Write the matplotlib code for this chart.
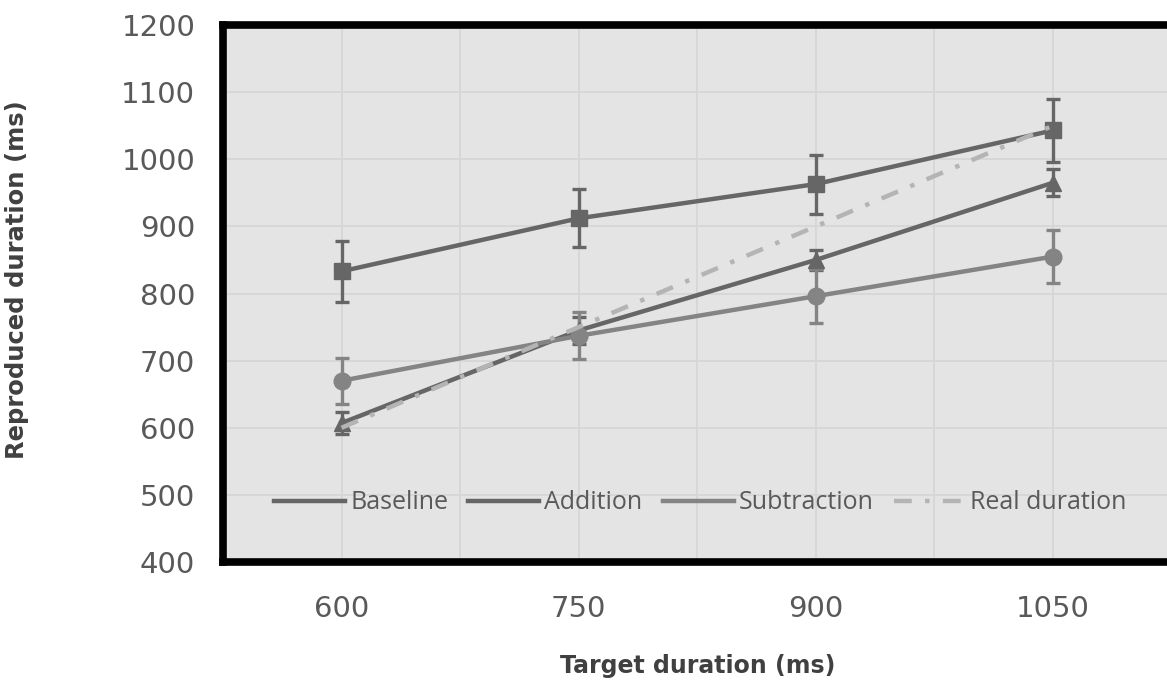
import matplotlib
matplotlib.use("Agg")
import matplotlib.pyplot as plt

targets = ["600", "750", "900", "1050"]
baseline = [833, 912, 963, 1043]
baseline_err = [45, 43, 44, 47]
addition = [607, 745, 850, 965]
addition_err = [17, 20, 15, 20]
subtraction = [670, 737, 796, 855]
subtraction_err = [34, 35, 40, 39]
real = [600, 750, 900, 1050]

x = list(range(len(targets)))

fig = plt.figure(figsize=(11.67, 6.8), dpi=100)
# right edge of the frame is cut by the picture edge
ax = fig.add_axes([223 / 1167, 118 / 680, (1171.5 - 223) / 1167, 537 / 680])
ax.set_facecolor("#e4e4e4")

dark = "#666666"
mid = "#848484"
light = "#b4b4b4"

ax.plot(x, baseline, color=dark, lw=3.2, label="Baseline", zorder=3)
ax.errorbar(x, baseline, yerr=baseline_err, fmt="s", color=dark, ms=12,
            elinewidth=2.4, capsize=5, capthick=2.4, zorder=3)
ax.plot(x, addition, color=dark, lw=3.2, label="Addition", zorder=3)
ax.errorbar(x, addition, yerr=addition_err, fmt="^", color=dark, ms=12,
            elinewidth=2.4, capsize=5, capthick=2.4, zorder=3)
ax.plot(x, subtraction, color=mid, lw=3.2, label="Subtraction", zorder=3)
ax.errorbar(x, subtraction, yerr=subtraction_err, fmt="o", color=mid, ms=12,
            elinewidth=2.4, capsize=5, capthick=2.4, zorder=3)
ax.plot(x, real, color=light, lw=3.2, ls=(0, (4, 3, 1, 3)),
        label="Real duration", zorder=4)

ax.set_xlim(-0.5, 3.5)
ax.set_ylim(400, 1200)
ax.set_yticks(range(400, 1201, 100))
ax.set_xticks(x)
ax.set_xticklabels(targets)
ax.set_xticks([i + 0.5 for i in x], minor=True)
ax.grid(True, which="both", color="#d6d6d6", lw=1.3, zorder=0)
ax.set_axisbelow(True)

for s in ax.spines.values():
    s.set_linewidth(5.5)
    s.set_color("black")

ax.tick_params(which="both", length=0)
ax.tick_params(axis="y", pad=20, labelsize=21, labelcolor="#595959")
ax.tick_params(axis="x", pad=24, labelsize=21, labelcolor="#595959")

ax.set_xlabel("Target duration (ms)", fontsize=17, fontweight="bold",
              color="#404040", labelpad=22)
ax.set_ylabel("Reproduced duration (ms)", fontsize=17.5, fontweight="bold",
              color="#404040")
ax.yaxis.set_label_coords(-0.205, 0.525)

leg = ax.legend(loc="center", bbox_to_anchor=(0.503, 0.11), ncol=4,
                frameon=False, prop={"family": "Open Sans", "size": 18},
                handlelength=2.85, handletextpad=0.2, columnspacing=0.8,
                borderpad=0)
for t in leg.get_texts():
    t.set_color("#595959")

fig.savefig("out.png", dpi=100)
